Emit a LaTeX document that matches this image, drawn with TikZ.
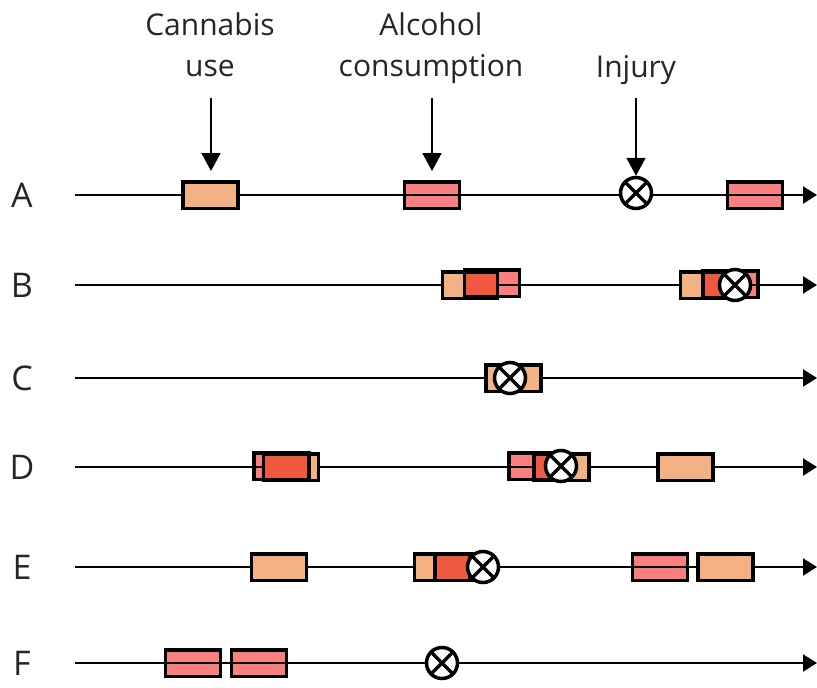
\documentclass[tikz,border=0pt]{standalone}
\usepackage{fontspec}
\setmainfont{Open Sans}
\usetikzlibrary{arrows.meta}
\definecolor{cannabis}{HTML}{F4B183}
\definecolor{alcohol}{HTML}{FA7F7F}
\tikzset{
  timeline/.style={line width=2pt, -{Triangle[length=14pt,width=17pt]}},
  pointer/.style={line width=2pt, -{Triangle[length=18pt,width=19pt]}},
  episode/.style={draw, line width=3.5pt, minimum width=55pt, minimum height=26.5pt, inner sep=0pt},
  cannbox/.style={episode, fill=cannabis},
  alcbox/.style={episode, fill=alcohol},
  injury/.style={circle, draw, line width=3.5pt, fill=white, minimum size=31pt, inner sep=0pt,
    path picture={\draw[line width=3.5pt]
      (path picture bounding box.north west) -- (path picture bounding box.south east)
      (path picture bounding box.north east) -- (path picture bounding box.south west);}},
  rowlabel/.style={font=\fontsize{34}{38}\selectfont, text=black!85},
  headlabel/.style={font=\fontsize{30}{41}\selectfont, align=center, text=black!85},
}
\begin{document}
\begin{tikzpicture}[x=1pt, y=-1pt]
\useasboundingbox (0,0) rectangle (817,688);

% column headings and pointers
\node[headlabel, anchor=base] (hcann) at (210,76) {Cannabis\\use};
\node[headlabel, anchor=base] (halc) at (431,76) {Alcohol\\consumption};
\node[headlabel, anchor=base] (hinj) at (636,77) {Injury};
\coordinate (pcann) at (211,98);
\coordinate (palc) at (432,98);
\coordinate (pinj) at (636,98);
\coordinate (tcann) at (211,171);
\coordinate (talc) at (432,171);

% row labels and time lines
\foreach \r/\y in {A/195, B/285, C/378, D/467, E/567, F/663}{
  \node[rowlabel] (lab\r) at (22,\y) {\r};
  \coordinate (start\r) at (75,\y);
  \coordinate (end\r) at (817,\y);
  \draw[timeline] (start\r) -- (end\r);
}

% cannabis episodes (opaque)
\node[cannbox] (a1) at (210.5,195) {};
\node[cannbox] (b1) at (470,285) {};
\node[cannbox] (b3) at (708,285) {};
\node[cannbox] (c1) at (513.5,378) {};
\node[cannbox] (d2) at (291,467) {};
\node[cannbox] (d4) at (561.5,467) {};
\node[cannbox] (d5) at (685.5,467) {};
\node[cannbox] (e1) at (279,567) {};
\node[cannbox] (e2) at (442,567) {};
\node[cannbox] (e5) at (725.5,567) {};

% alcohol episodes, multiplied over whatever lies beneath
\begin{scope}[blend mode=multiply]
\node[alcbox] (a2) at (432,195) {};
\node[alcbox] (a4) at (755,195) {};
\node[alcbox] (b2) at (492,283) {};
\node[alcbox] (b4) at (730.5,284) {};
\node[alcbox] (d1) at (281.5,466) {};
\node[alcbox] (d3) at (536.5,466) {};
\node[alcbox] (e3) at (462.5,567) {};
\node[alcbox] (e4) at (660,567) {};
\node[alcbox] (f1) at (193,663) {};
\node[alcbox] (f2) at (259,663) {};
\end{scope}

% injuries
\node[injury] (a3) at (636,193) {};
\node[injury] (b5) at (735,285) {};
\node[injury] (c2) at (510,378) {};
\node[injury] (d6) at (561,466) {};
\node[injury] (e6) at (483,567) {};
\node[injury] (f3) at (442,663) {};

\draw[pointer] (pcann) -- (tcann);
\draw[pointer] (palc) -- (talc);
\draw[pointer] (pinj) -- (a3.north);
\end{tikzpicture}
\end{document}
